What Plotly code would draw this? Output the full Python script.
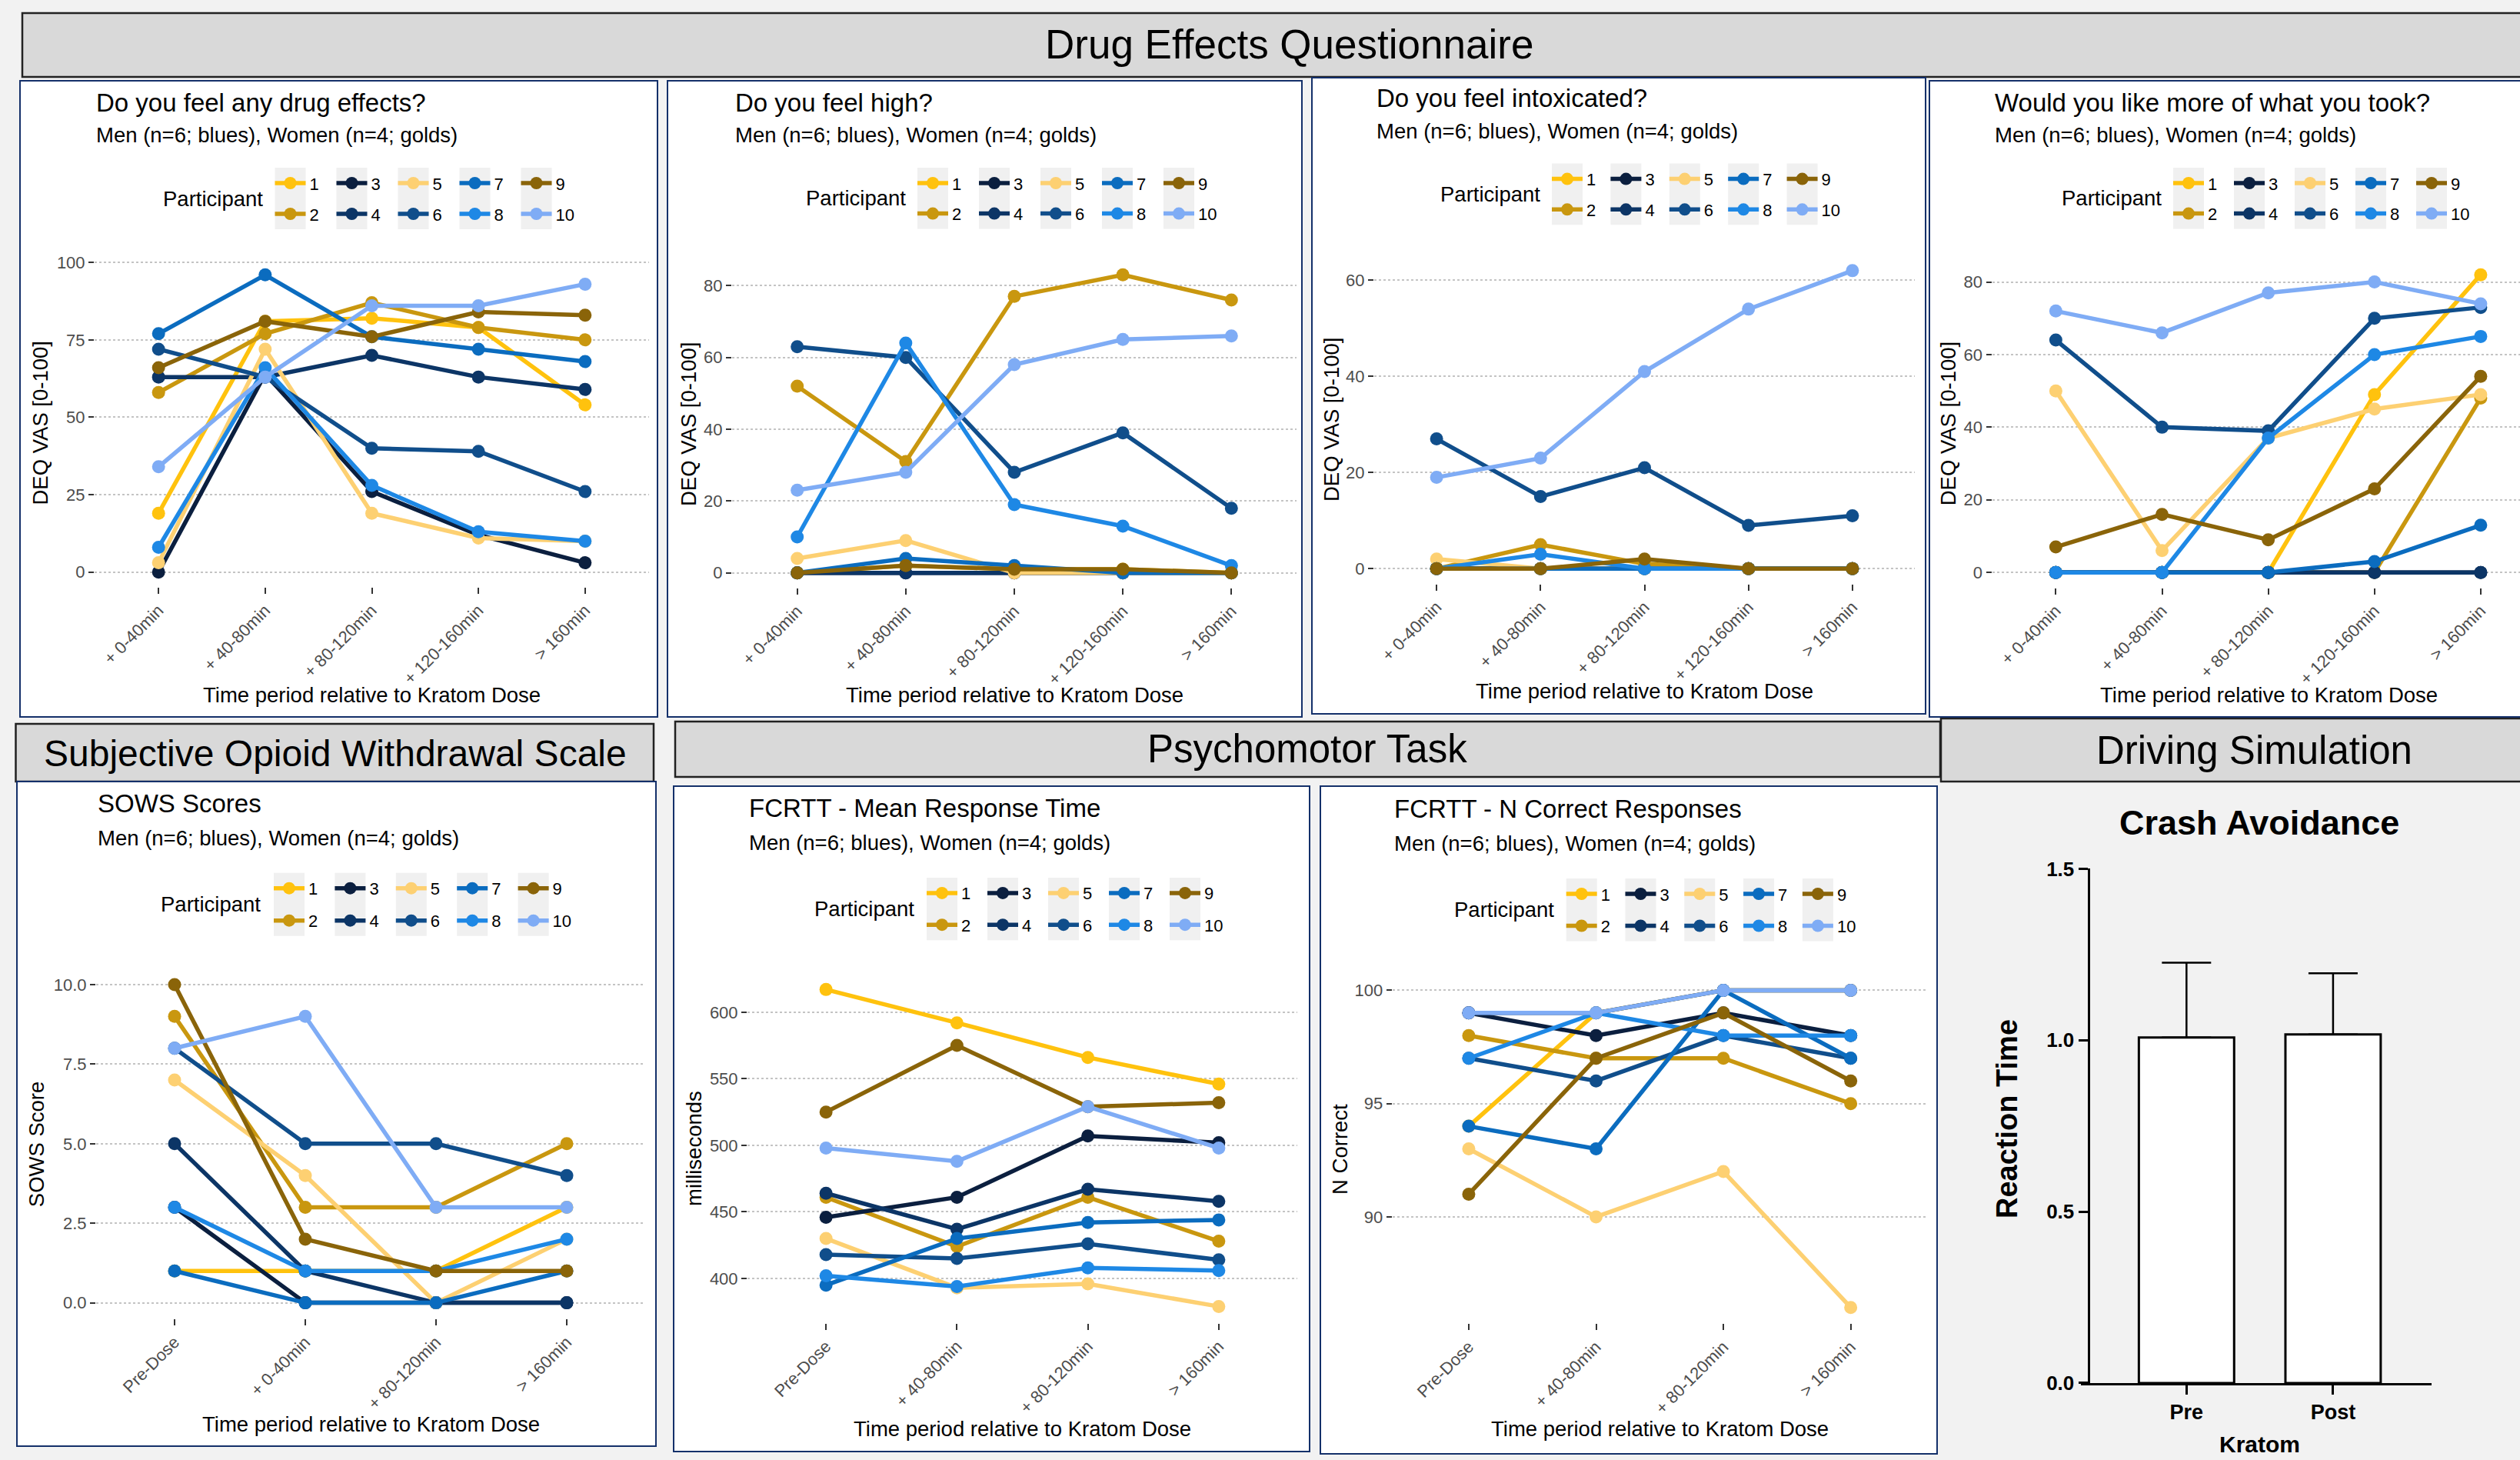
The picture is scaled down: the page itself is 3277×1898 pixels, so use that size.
import plotly.graph_objects as go

W, H = 3277, 1898

# ---------------- data ----------------
participants = ["1", "2", "3", "4", "5", "6", "7", "8", "9", "10"]
colors = ["#FFC20E", "#C9970F", "#0B1F3F", "#0C3566", "#FDD072",
          "#104E8B", "#0B6CBF", "#1E88E5", "#8A6409", "#7FACF5"]

cats_deq = ["+ 0-40min", "+ 40-80min", "+ 80-120min", "+ 120-160min", "> 160min"]
cats_sows = ["Pre-Dose", "+ 0-40min", "+ 80-120min", "> 160min"]
cats_fcrtt = ["Pre-Dose", "+ 40-80min", "+ 80-120min", "> 160min"]

deq_any_effects = [
    [19, 81, 82, 79, 54],
    [58, 77, 87, 79, 75],
    [0, 64, 26, 12, 3],
    [63, 63, 70, 63, 59],
    [3, 72, 19, 11, 10],
    [72, 63, 40, 39, 26],
    [77, 96, 76, 72, 68],
    [8, 66, 28, 13, 10],
    [66, 81, 76, 84, 83],
    [34, 63, 86, 86, 93],
]
deq_high = [
    [0, 2, 1, 1, 0],
    [52, 31, 77, 83, 76],
    [0, 0, 0, 0, 0],
    [0, 0, 0, 0, 0],
    [4, 9, 0, 0, 0],
    [63, 60, 28, 39, 18],
    [0, 4, 2, 0, 0],
    [10, 64, 19, 13, 2],
    [0, 2, 1, 1, 0],
    [23, 28, 58, 65, 66],
]
deq_intoxicated = [
    [0, 0, 0, 0, 0],
    [0, 5, 1, 0, 0],
    [0, 0, 0, 0, 0],
    [0, 0, 0, 0, 0],
    [2, 0, 0, 0, 0],
    [27, 15, 21, 9, 11],
    [0, 0, 0, 0, 0],
    [0, 3, 0, 0, 0],
    [0, 0, 2, 0, 0],
    [19, 23, 41, 54, 62],
]
deq_more = [
    [0, 0, 0, 49, 82],
    [0, 0, 0, 0, 48],
    [0, 0, 0, 0, 0],
    [0, 0, 0, 0, 0],
    [50, 6, 37, 45, 49],
    [64, 40, 39, 70, 73],
    [0, 0, 0, 3, 13],
    [0, 0, 37, 60, 65],
    [7, 16, 9, 23, 54],
    [72, 66, 77, 80, 74],
]
sows_scores = [
    [1, 1, 1, 3],
    [9, 3, 3, 5],
    [3, 0, 0, 0],
    [5, 1, 0, 0],
    [7, 4, 0, 2],
    [8, 5, 5, 4],
    [1, 0, 0, 1],
    [3, 1, 1, 2],
    [10, 2, 1, 1],
    [8, 9, 3, 3],
]
fcrtt_rt = [
    [617, 592, 566, 546],
    [461, 424, 461, 428],
    [446, 461, 507, 502],
    [464, 437, 467, 458],
    [430, 393, 396, 379],
    [418, 415, 426, 414],
    [395, 430, 442, 444],
    [402, 394, 408, 406],
    [525, 575, 529, 532],
    [498, 488, 529, 498],
]
fcrtt_correct = [
    [94, 99, 100, 100],
    [98, 97, 97, 95],
    [99, 98, 99, 98],
    [99, 99, 100, 100],
    [93, 90, 92, 86],
    [97, 96, 98, 97],
    [94, 93, 100, 97],
    [97, 99, 98, 98],
    [91, 97, 99, 96],
    [99, 99, 100, 100],
]
crash_groups = ["Pre", "Post"]
crash_mean = [1.008, 1.017]
crash_sd = [0.218, 0.178]

# ---------------- helpers ----------------
FONT = "Liberation Sans, Arial, Helvetica, sans-serif"
NARROW = "Liberation Sans Narrow, Arial Narrow, Liberation Sans, sans-serif"
SUB = "Men (n=6; blues), Women (n=4; golds)"


def fx(px):
    return px / W


def fy(py):
    return 1 - py / H


panels = [
    dict(data=deq_any_effects, cats=cats_deq, title="Do you feel any drug effects?",
         ytitle="DEQ VAS [0-100]", box=(26, 855, 105, 932), plot=(123, 844, 338, 763),
         xr=[-0.6, 4.6], yr=[-4.8, 100.8], ytv=[0, 25, 50, 75, 100], fmt="{:.0f}",
         tpos=(123, 133.6, 175.3), leg=(357.5, 80, 238, 278, 344), xt=(483.5, 903.8), yt=(52, 550.5)),
    dict(data=deq_high, cats=cats_deq, title="Do you feel high?",
         ytitle="DEQ VAS [0-100]", box=(868, 1693, 105, 932), plot=(952, 1686, 338, 764),
         xr=[-0.6, 4.6], yr=[-4.15, 87.15], ytv=[0, 20, 40, 60, 80], fmt="{:.0f}",
         tpos=(953.7, 133.6, 175.3), leg=(1193, 80, 238, 277.6, 1180), xt=(1319, 903.8), yt=(895, 551)),
    dict(data=deq_intoxicated, cats=cats_deq, title="Do you feel intoxicated?",
         ytitle="DEQ VAS [0-100]", box=(1706, 2504, 101, 928), plot=(1787, 2490, 332.5, 758.7),
         xr=[-0.6, 4.6], yr=[-3.1, 65.1], ytv=[0, 20, 40, 60], fmt="{:.0f}",
         tpos=(1788, 128, 170), leg=(2018, 76.4, 232.6, 272.3, 2005), xt=(2138.5, 898.4), yt=(1731.4, 545.6)),
    dict(data=deq_more, cats=cats_deq, title="Would you like more of what you took?",
         ytitle="DEQ VAS [0-100]", box=(2509, 3300, 105, 932), plot=(2590.5, 3277, 337.8, 763.5),
         xr=[-0.6, 4.37], yr=[-4.1, 86.1], ytv=[0, 20, 40, 60, 80], fmt="{:.0f}",
         tpos=(2591.7, 133.6, 175.3), leg=(2826, 79, 238, 277.6, 2813), xt=(2950, 903.8), yt=(2533.7, 550.6)),
    dict(data=sows_scores, cats=cats_sows, title="SOWS Scores",
         ytitle="SOWS Score", box=(22, 853, 1016, 1880), plot=(125, 839, 1259.3, 1714.3),
         xr=[-0.6, 3.6], yr=[-0.5, 10.5], ytv=[0, 2.5, 5, 7.5, 10], fmt="{:.1f}",
         tpos=(125, 1044, 1089), leg=(356, 79.4, 1154.7, 1196.7, 341), xt=(482, 1851), yt=(47.2, 1487)),
    dict(data=fcrtt_rt, cats=cats_fcrtt, title="FCRTT - Mean Response Time",
         ytitle="milliseconds", box=(876, 1703, 1022, 1887), plot=(972, 1687, 1265.6, 1719.7),
         xr=[-0.6, 3.6], yr=[366.7, 629], ytv=[400, 450, 500, 550, 600], fmt="{:.0f}",
         tpos=(972, 1050, 1095), leg=(1205, 79, 1160.9, 1202.2, 1191), xt=(1329.5, 1857.8), yt=(902, 1493)),
    dict(data=fcrtt_correct, cats=cats_fcrtt, title="FCRTT - N Correct Responses",
         ytitle="N Correct", box=(1717, 2519, 1022, 1890), plot=(1810.6, 2506, 1266.8, 1720.3),
         xr=[-0.6, 3.6], yr=[85.3, 100.7], ytv=[90, 95, 100], fmt="{:.0f}",
         tpos=(1811, 1051.6, 1096.7), leg=(2036.7, 76.8, 1162, 1203.5, 2023), xt=(2158, 1857.8), yt=(1742.4, 1493.5)),
]

fig = go.Figure()
shapes = []
annotations = []
layout_axes = {}
legends = {}

LEG_FONT = 22
item_h = LEG_FONT * 1.3 + 3

# header boxes
headers = [
    ("Drug Effects Questionnaire", (29, 3330, 17, 100), (1676, 58), NARROW, 53),
    ("Subjective Opioid Withdrawal Scale", (20.5, 850, 941, 1016), (436, 979), FONT, 48),
    ("Psychomotor Task", (878, 2523, 938, 1010), (1700, 974), FONT, 51),
    ("Driving Simulation", (2524, 3340, 934, 1016), (2931, 975), FONT, 51),
]
for text, (x0, x1, y0, y1), (tx, ty), fam, size in headers:
    shapes.append(dict(type="rect", xref="paper", yref="paper", x0=fx(x0), x1=fx(x1),
                       y0=fy(y1), y1=fy(y0), fillcolor="#D9D9D9",
                       line=dict(color="#222222", width=2.5), layer="below"))
    annotations.append(dict(text=text, x=fx(tx), y=fy(ty), xref="paper", yref="paper",
                            showarrow=False, xanchor="center", yanchor="middle",
                            font=dict(family=fam, size=size, color="black")))

for i, p in enumerate(panels):
    n = i + 1
    xa = "x" if n == 1 else f"x{n}"
    ya = "y" if n == 1 else f"y{n}"
    lg_top = "legend" if i == 0 else f"legend{2 * i + 1}"
    lg_bot = f"legend{2 * i + 2}"
    x0, x1, y0, y1 = p["box"]
    shapes.append(dict(type="rect", xref="paper", yref="paper", x0=fx(x0), x1=fx(x1),
                       y0=fy(y1), y1=fy(y0), fillcolor="white",
                       line=dict(color="#14306A", width=2), layer="below"))
    kx, kdx, row1, row2, ptx = p["leg"]
    for c in range(5):
        shapes.append(dict(type="rect", xref="paper", yref="paper",
                           x0=fx(kx + c * kdx), x1=fx(kx + c * kdx + 40),
                           y0=fy(row2 + 20), y1=fy(row1 - 20),
                           fillcolor="#F0F0F0", line=dict(width=0), layer="below"))
    for j, name in enumerate(participants):
        fig.add_trace(go.Scatter(
            x=p["cats"], y=p["data"][j], mode="lines+markers", name=name,
            line=dict(color=colors[j], width=5.5),
            marker=dict(color=colors[j], size=17),
            xaxis=xa, yaxis=ya, legend=(lg_top if j % 2 == 0 else lg_bot),
            showlegend=True, hoverinfo="x+y+name"))
    px0, px1, py0, py1 = p["plot"]
    xk = "xaxis" if n == 1 else f"xaxis{n}"
    yk = "yaxis" if n == 1 else f"yaxis{n}"
    layout_axes[xk] = dict(
        domain=[fx(px0), min(fx(px1), 1.0)], anchor=ya, type="category",
        categoryorder="array", categoryarray=p["cats"], range=p["xr"], automargin=False,
        showgrid=False, zeroline=False, showline=False,
        ticks="outside", ticklen=8, tickwidth=2, tickcolor="#333333",
        tickangle=-45, tickfont=dict(family=FONT, size=22, color="#4D4D4D"))
    layout_axes[yk] = dict(
        domain=[fy(py1), fy(py0)], anchor=xa, range=p["yr"], automargin=False,
        tickvals=p["ytv"], ticktext=[p["fmt"].format(v) for v in p["ytv"]],
        showgrid=True, gridcolor="#C4C4C4", gridwidth=2, griddash="dot",
        zeroline=False, showline=False,
        ticks="outside", ticklen=7, tickwidth=2, tickcolor="#333333",
        tickfont=dict(family=FONT, size=22, color="#4D4D4D"))
    for lg, rowc in ((lg_top, row1), (lg_bot, row2)):
        legends[lg] = dict(
            orientation="h", xanchor="left", yanchor="top",
            x=fx(kx - 5), y=fy(rowc - 5 - item_h / 2), itemwidth=40,
            entrywidth=kdx - 55, entrywidthmode="pixels",
            bgcolor="rgba(0,0,0,0)", borderwidth=0,
            font=dict(family=FONT, size=LEG_FONT, color="black"))
    tx, tyt, tys = p["tpos"]
    annotations.append(dict(text=p["title"], x=fx(tx), y=fy(tyt), xref="paper", yref="paper",
                            showarrow=False, xanchor="left", yanchor="middle",
                            font=dict(family=FONT, size=33, color="black")))
    annotations.append(dict(text=SUB, x=fx(tx), y=fy(tys), xref="paper", yref="paper",
                            showarrow=False, xanchor="left", yanchor="middle",
                            font=dict(family=FONT, size=27.5, color="black")))
    annotations.append(dict(text="Participant", x=fx(ptx), y=fy((row1 + row2) / 2),
                            xref="paper", yref="paper",
                            showarrow=False, xanchor="right", yanchor="middle",
                            font=dict(family=FONT, size=27.5, color="black")))
    annotations.append(dict(text="Time period relative to Kratom Dose", x=fx(p["xt"][0]),
                            y=fy(p["xt"][1]), xref="paper", yref="paper", showarrow=False,
                            xanchor="center", yanchor="middle",
                            font=dict(family=FONT, size=27.5, color="black")))
    annotations.append(dict(text=p["ytitle"], x=fx(p["yt"][0]), y=fy(p["yt"][1]),
                            xref="paper", yref="paper", showarrow=False, textangle=-90,
                            xanchor="center", yanchor="middle",
                            font=dict(family=FONT, size=27.5, color="black")))

# ---------------- crash avoidance bar chart ----------------
fig.add_trace(go.Bar(
    x=crash_groups, y=crash_mean, width=0.65, showlegend=False,
    marker=dict(color="white", line=dict(color="black", width=3)),
    error_y=dict(type="data", array=crash_sd, arrayminus=[0] * len(crash_sd),
                 symmetric=False, color="black", thickness=2.5, width=32),
    xaxis="x8", yaxis="y8"))
layout_axes["xaxis8"] = dict(
    domain=[fx(2705.7), fx(3162)], anchor="y8", type="category", range=[-0.722, 1.672],
    automargin=False, showgrid=False, zeroline=False, showline=True, linecolor="black", linewidth=3,
    ticks="outside", ticklen=12, tickwidth=3, tickcolor="black",
    tickfont=dict(family=FONT, size=27, color="black", weight="bold"))
layout_axes["yaxis8"] = dict(
    domain=[fy(1797.9), fy(1129.4)], anchor="free", position=fx(2715.5),
    range=[0, 1.5], automargin=False,
    tickvals=[0, 0.5, 1.0, 1.5], ticktext=["0.0", "0.5", "1.0", "1.5"],
    showgrid=False, zeroline=False, showline=True, linecolor="black", linewidth=3,
    ticks="outside", ticklen=12, tickwidth=3, tickcolor="black",
    tickfont=dict(family=FONT, size=26, color="black", weight="bold"))
annotations.append(dict(text="Crash Avoidance", x=fx(2938), y=fy(1069), xref="paper", yref="paper",
                        showarrow=False, xanchor="center", yanchor="middle",
                        font=dict(family=FONT, size=45, color="black", weight="bold")))
annotations.append(dict(text="Reaction Time", x=fx(2610), y=fy(1455), xref="paper", yref="paper",
                        showarrow=False, textangle=-90, xanchor="center", yanchor="middle",
                        font=dict(family=FONT, size=38, color="black", weight="bold")))
annotations.append(dict(text="Kratom", x=fx(2938), y=fy(1877.5), xref="paper", yref="paper",
                        showarrow=False, xanchor="center", yanchor="middle",
                        font=dict(family=FONT, size=30, color="black", weight="bold")))

fig.update_layout(
    width=W, height=H, margin=dict(l=0, r=0, t=0, b=0, pad=0, autoexpand=False),
    paper_bgcolor="#F2F2F2", plot_bgcolor="rgba(0,0,0,0)",
    font=dict(family=FONT, color="black"),
    shapes=shapes, annotations=annotations, hovermode="closest",
    **layout_axes, **legends)

fig.write_html("out.html")
